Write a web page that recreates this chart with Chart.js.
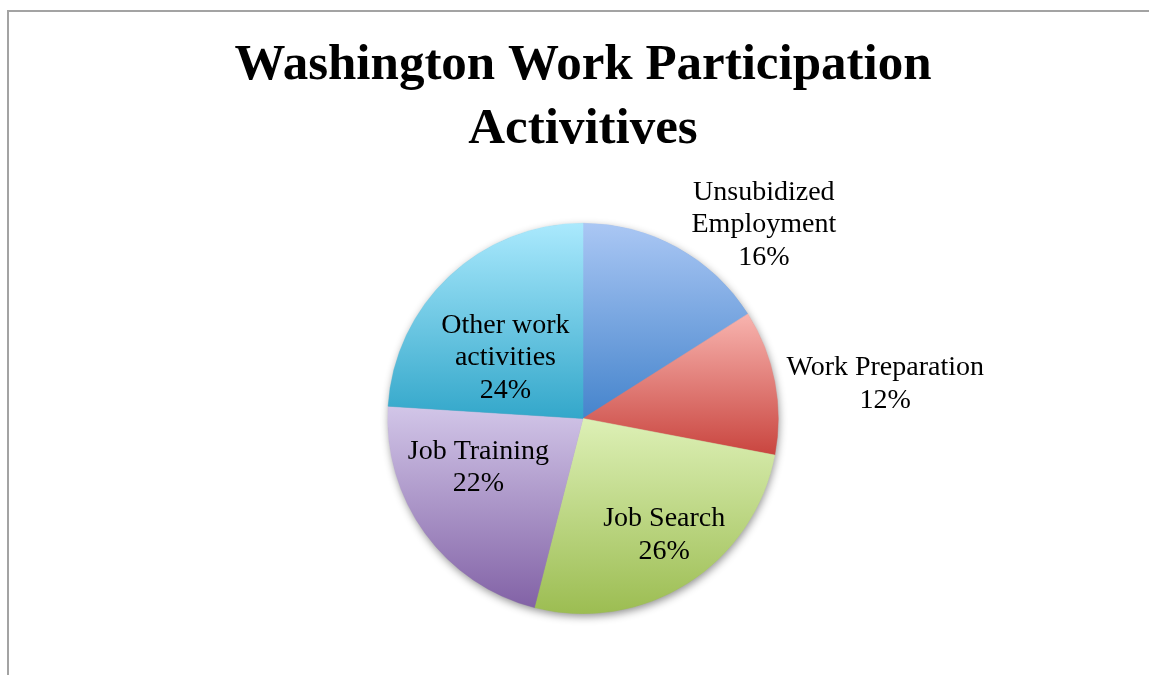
<!DOCTYPE html>
<html>
<head>
<meta charset="utf-8">
<script src="https://cdn.jsdelivr.net/npm/chart.js@4/dist/chart.umd.min.js"></script>
<style>
  html, body { margin: 0; padding: 0; background: #fff; }
  #wrap { position: relative; width: 1149px; height: 675px; }
  #frame { position: absolute; left: 7px; top: 10px; right: -2px; bottom: -2px; border-top: 2px solid #a3a3a3; border-left: 2px solid #a3a3a3; }
  canvas { position: absolute; left: 0; top: 0; }
</style>
</head>
<body>
<div id="wrap">
  <div id="frame"></div>
  <canvas id="pie" width="1149" height="675"></canvas>
</div>
<script>
var categories = ['Unsubidized Employment', 'Work Preparation', 'Job Search', 'Job Training', 'Other work activities'];
var labelLines = [['Unsubidized', 'Employment'], ['Work Preparation'], ['Job Search'], ['Job Training'], ['Other work', 'activities']];
var shares = [16, 12, 26, 22, 24];

// light (top) and dark (bottom) end of each slice gradient
var topColors = ['#aac7f4', '#f8b4af', '#ddf0b6', '#d2c6e8', '#aae9fd'];
var bottomColors = ['#4584cc', '#c9453f', '#9cbd52', '#8262a6', '#33a7ca'];

// label placement: radius fraction from the slice middle, then a pixel nudge
var labelRadius = 0.7;
var labelNudge = [[115, -74], [168, -9], [8, 1], [6, -31], [16, 39]];

function sectorYRange(el) {
  var p = el.getProps(['x', 'y', 'startAngle', 'endAngle', 'outerRadius']);
  var ys = [p.y, p.y + Math.sin(p.startAngle) * p.outerRadius, p.y + Math.sin(p.endAngle) * p.outerRadius];
  [-Math.PI / 2, Math.PI / 2, 3 * Math.PI / 2].forEach(function (a) {
    if (a >= p.startAngle && a <= p.endAngle) ys.push(p.y + Math.sin(a) * p.outerRadius);
  });
  return [Math.min.apply(null, ys), Math.max.apply(null, ys)];
}

var slicePainter = {
  id: 'slicePainter',
  beforeDatasetsDraw: function (chart) {
    var ctx = chart.ctx;
    var meta = chart.getDatasetMeta(0);
    var first = meta.data[0];
    var c = first.getProps(['x', 'y', 'outerRadius']);
    // soft drop shadow under the whole pie
    ctx.save();
    ctx.shadowColor = 'rgba(0,0,0,0.45)';
    ctx.shadowBlur = 9;
    ctx.shadowOffsetX = 1;
    ctx.shadowOffsetY = 3;
    ctx.fillStyle = '#888';
    ctx.beginPath();
    ctx.arc(c.x, c.y, c.outerRadius - 0.5, 0, Math.PI * 2);
    ctx.fill();
    ctx.restore();
    meta.data.forEach(function (el, i) {
      var r = sectorYRange(el);
      var g = ctx.createLinearGradient(0, r[0], 0, r[1]);
      g.addColorStop(0, topColors[i]);
      g.addColorStop(1, bottomColors[i]);
      el.options.backgroundColor = g;
      el.options.borderColor = g;
    });
  },
  afterDatasetsDraw: function (chart) {
    var ctx = chart.ctx;
    var meta = chart.getDatasetMeta(0);
    var total = shares.reduce(function (a, b) { return a + b; }, 0);
    ctx.save();
    ctx.fillStyle = '#000';
    ctx.font = '28px "Liberation Serif", serif';
    ctx.textAlign = 'center';
    ctx.textBaseline = 'middle';
    var lh = 32.5;
    meta.data.forEach(function (el, i) {
      var p = el.getProps(['x', 'y', 'startAngle', 'endAngle', 'outerRadius']);
      var mid = (p.startAngle + p.endAngle) / 2;
      var ax = p.x + Math.cos(mid) * p.outerRadius * labelRadius + labelNudge[i][0];
      var ay = p.y + Math.sin(mid) * p.outerRadius * labelRadius + labelNudge[i][1];
      var lines = labelLines[i].concat([Math.round(shares[i] / total * 100) + '%']);
      var y0 = ay - (lines.length - 1) * lh / 2;
      lines.forEach(function (t, k) {
        ctx.fillText(t, ax, y0 + k * lh);
      });
    });
    ctx.restore();
  }
};

var chart = new Chart(document.getElementById('pie'), {
  type: 'pie',
  data: {
    labels: categories,
    datasets: [{
      data: shares,
      backgroundColor: topColors,
      borderWidth: 0.5,
      hoverOffset: 0
    }]
  },
  options: {
    responsive: false,
    animation: false,
    layout: {
      padding: { left: 17, right: 0, top: 0, bottom: 61 }
    },
    plugins: {
      legend: { display: false },
      tooltip: { enabled: false },
      title: {
        display: true,
        text: ['Washington Work Participation', 'Activitives'],
        color: '#000',
        font: { family: '"Liberation Serif", serif', size: 51, weight: 'bold', lineHeight: 1.255 },
        padding: { top: 34, bottom: 61 }
      }
    }
  },
  plugins: [slicePainter]
});
</script>
</body>
</html>
